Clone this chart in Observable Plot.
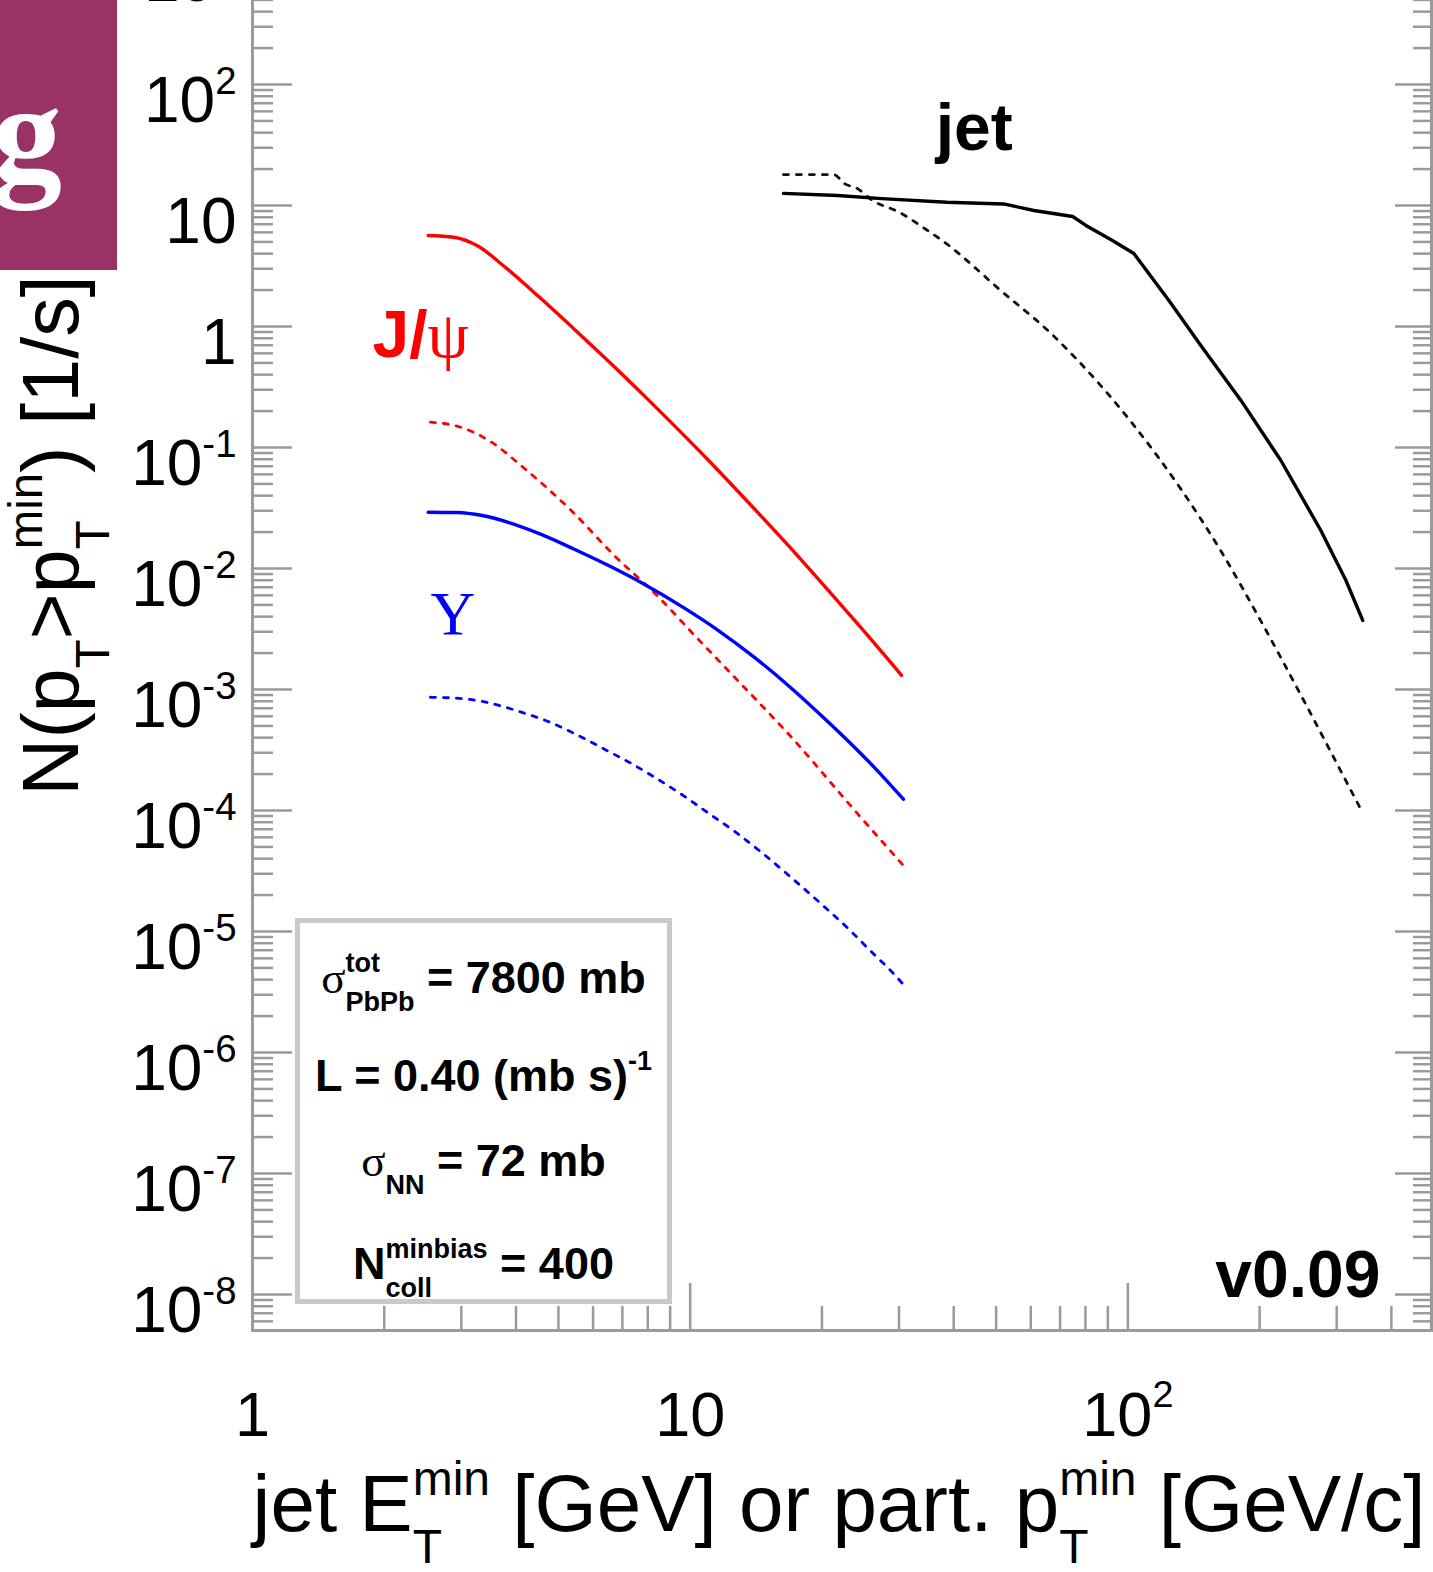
<!DOCTYPE html>
<html><head><meta charset="utf-8">
<script src="https://cdn.jsdelivr.net/npm/d3@7"></script>
<script src="https://cdn.jsdelivr.net/npm/@observablehq/plot@0.6"></script>
<style>
html,body{margin:0;padding:0;background:#fff;}
#page{position:relative;width:1433px;height:1572px;overflow:hidden;background:#fff;}
#chart{position:absolute;left:0;top:-60px;}
#logo{position:absolute;left:0;top:0;}
</style></head><body>
<div id="page"><div id="chart"></div>
<svg id="logo" width="117" height="270"><rect width="117" height="270" fill="#993366"/><text x="-8" y="180" font-family="Liberation Serif, serif" font-weight="bold" font-size="140" fill="#fff">g</text></svg>
</div>
<script>
// ---- data ----
const jpsiPt    = [2.52, 2.88, 3.28, 3.75, 4.52, 5.45, 6.58, 7.94, 9.58, 11.56, 13.95, 16.85, 20.3, 24.5, 30.4];
const jpsiRate  = [5.65, 5.47, 4.60, 3.16, 1.75, 0.941, 0.4965, 0.257, 0.1307, 0.0652, 0.0317, 0.01514, 0.00710, 0.00327, 0.00131];
const jpsiPtB   = [2.55, 2.99, 3.47, 4.19, 5.35, 6.71, 8.40, 10.33, 13.07, 17.15, 23.6, 30.7];
const jpsiRateB = [0.162, 0.147, 0.114, 0.0667, 0.0301, 0.0128, 0.00598, 0.00270, 0.00111, 0.000392, 0.000103, 0.0000351];
const upsPt     = [2.52, 2.93, 3.35, 4.52, 5.45, 6.58, 7.94, 9.58, 11.56, 13.95, 16.85, 20.3, 23.2, 26.5, 30.7];
const upsRate   = [0.0292, 0.0290, 0.0274, 0.0194, 0.01436, 0.01037, 0.00724, 0.00484, 0.00310, 0.00187, 0.00106, 0.000573, 0.000361, 0.000222, 0.000124];
const upsPtB    = [2.55, 3.05, 3.54, 4.11, 4.78, 5.45, 6.34, 7.36, 8.40, 9.76, 10.93, 12.70, 14.50, 17.16, 20.3, 23.2, 25.9, 29.1, 30.7];
const upsRateB  = [0.000863, 0.000838, 0.000762, 0.00065, 0.000537, 0.000431, 0.000324, 0.000243, 0.000183, 0.000129, 0.0000968, 0.0000662, 0.0000455, 0.0000272, 0.0000159, 0.0000102, 0.00000684, 0.00000452, 0.00000364];
const jetEt     = [16.33, 21.7, 27.4, 38.6, 52.0, 61, 74.8, 80.2, 92.2, 103.2, 124.1, 146.8, 181.3, 223.7, 276, 315, 344];
const jetRate   = [12.6, 12.1, 11.4, 10.65, 10.3, 9.09, 8.11, 6.84, 5.14, 4.01, 1.64, 0.697, 0.245, 0.0781, 0.0206, 0.00796, 0.00372];
const jetEtB    = [16.33, 21.3, 22.5, 24.1, 26.1, 30.0, 34.4, 39.0, 44.2, 49.7, 66.6, 86.7, 101.6, 132.2, 163.2, 201.4, 248.5, 291, 344];
const jetRateB  = [18.0, 18.0, 15.2, 13.8, 11.0, 8.81, 6.42, 4.67, 3.19, 2.18, 0.882, 0.325, 0.1637, 0.0453, 0.01393, 0.00367, 0.000899, 0.000304, 0.0000955];

const xMajor = [1, 10, 100];
const xTickLabels = ["1", "10", "10^{2}"];
const xMinor = [2,3,4,5,6,7,8,9,20,30,40,50,60,70,80,90,200,300,400];
const yMajor = [1e-8,1e-7,1e-6,1e-5,1e-4,1e-3,1e-2,1e-1,1,10,100,1000];
const yTickLabels = ["10^{-8}","10^{-7}","10^{-6}","10^{-5}","10^{-4}","10^{-3}","10^{-2}","10^{-1}","1","10","10^{2}","10^{3}"];
const xTitle = "jet E_{T}^{min} [GeV] or part. p_{T}^{min} [GeV/c]";
const yTitle = "N(p_{T}>p_{T}^{min}) [1/s]";
const legendLines = ["σ_{PbPb}^{tot} = 7800 mb", "L = 0.40 (mb s)^{-1}", "σ_{NN} = 72 mb", "N_{coll}^{minbias} = 400"];
const versionText = "v0.09";
const annotations = [
  {x: 36.4, y: 28.5, text: "jet", color: "#000"},
  {x: 1.88, y: 0.555, text: "J/ψ", color: "#ff0000"},
  {x: 2.55, y: 0.0029, text: "Υ", color: "#0000ff"}
];

// ---- layout ----
const xDomain = [1, 494];
const yDomain = [5.04e-9, 1549];
const inY = v => v >= yDomain[0] && v <= yDomain[1];
const yMinor = yMajor.flatMap(v => [2,3,4,5,6,7,8,9].map(k => k * v / 10)).concat(
  yMajor.slice(-1).flatMap(v => [2,3,4,5,6,7,8,9].map(k => k * v))).filter(inY).filter(v => !yMajor.includes(v));
const legendDy = [-338, -240, -155, -52];
const axisGray = "#9a9a9a";

const lineMark = (xs, ys, color, dashed, curve) => Plot.line(xs, {
  x: xs, y: ys, stroke: color, strokeWidth: dashed ? 2.8 : 3.4,
  strokeDasharray: dashed ? "5,8" : null, strokeLinejoin: "round", curve: curve || "linear"
});

const plot = Plot.plot({
  width: 1433, height: 1632,
  marginLeft: 252, marginRight: 2, marginTop: 0, marginBottom: 242,
  style: {fontFamily: "'Liberation Sans', Arial, Helvetica, sans-serif", fontSize: "60px", color: "#000", background: "transparent"},
  x: {type: "log", domain: xDomain, axis: null},
  y: {type: "log", domain: yDomain, axis: null},
  marks: [
    // ticks (inward, ROOT style)
    Plot.axisX(xMajor, {anchor: "bottom", tickSize: 47, dy: -47, fill: "none", stroke: axisGray, strokeWidth: 2.5}),
    Plot.axisX(xMinor, {anchor: "bottom", tickSize: 24, dy: -24, fill: "none", stroke: axisGray, strokeWidth: 2.5}),
    Plot.axisY(yMajor.filter(inY), {anchor: "left", tickSize: 40, dx: 40, fill: "none", stroke: axisGray, strokeWidth: 2.5}),
    Plot.axisY(yMinor, {anchor: "left", tickSize: 21, dx: 21, fill: "none", stroke: axisGray, strokeWidth: 2.5}),
    Plot.axisY(yMajor.filter(inY), {anchor: "right", tickSize: 37, dx: -37, fill: "none", stroke: axisGray, strokeWidth: 2.5}),
    Plot.axisY(yMinor, {anchor: "right", tickSize: 19, dx: -19, fill: "none", stroke: axisGray, strokeWidth: 2.5}),
    Plot.frame({stroke: axisGray, strokeWidth: 3}),
    // tick labels
    Plot.text(xMajor, {x: d => d, text: xTickLabels, frameAnchor: "bottom", textAnchor: "middle", lineAnchor: "bottom", dy: 105, fontSize: 63, fill: "#000"}),
    Plot.text(yMajor.filter(inY), {y: d => d, text: yTickLabels.filter((t, i) => inY(yMajor[i])), frameAnchor: "left", textAnchor: "end", lineAnchor: "bottom", dx: -16, dy: 38, fontSize: 64, fill: "#000"}),
    // axis titles
    Plot.text([xTitle], {frameAnchor: "bottom-right", textAnchor: "end", lineAnchor: "bottom", dx: -6, dy: 200, fontSize: 80, fill: "#000"}),
    Plot.text([yTitle], {frameAnchor: "left", rotate: -90, textAnchor: "middle", lineAnchor: "bottom", dx: -175, dy: -100, fontSize: 79, fill: "#000"}),
    // curves
    lineMark(jetEtB, jetRateB, "#111", true, "monotone-x"),
    lineMark(jetEt, jetRate, "#000", false, "linear"),
    lineMark(jpsiPtB, jpsiRateB, "#ff0000", true, "monotone-x"),
    lineMark(jpsiPt, jpsiRate, "#ff0000", false, "monotone-x"),
    lineMark(upsPtB, upsRateB, "#0000ff", true, "monotone-x"),
    lineMark(upsPt, upsRate, "#0000ff", false, "monotone-x"),
    // labels
    Plot.text(annotations.slice(0, 2), {x: "x", y: "y", text: "text", fill: "color", textAnchor: "start", lineAnchor: "bottom", fontSize: 66, fontWeight: "bold"}),
    Plot.text(annotations.slice(2), {x: "x", y: "y", text: "text", fill: "color", textAnchor: "start", lineAnchor: "bottom", fontSize: 62, fontFamily: "'Liberation Serif', serif"}),
    Plot.text([versionText], {frameAnchor: "bottom-right", textAnchor: "end", lineAnchor: "bottom", dx: -51, dy: -34, fontSize: 66, fontWeight: "bold", fill: "#000"}),
    // parameter box
    Plot.frame({insetLeft: 45, insetRight: 762, insetTop: 980, insetBottom: 29, fill: "#fff", stroke: "#cacaca", strokeWidth: 5}),
    ...legendLines.map((s, i) => Plot.text([s], {frameAnchor: "bottom-left", textAnchor: "middle", lineAnchor: "bottom", dx: 231, dy: legendDy[i], fontSize: 45, fontWeight: "bold", fill: "#000"}))
  ]
});
document.getElementById("chart").appendChild(plot);

// ---- rich text: ^{sup}, _{sub}, greek in serif ----
function richify(svg) {
  const NS = "http://www.w3.org/2000/svg";
  const GREEK = /[σψΥ]/;
  const MARK = (s, i) => (s[i] === "^" || s[i] === "_") && s[i + 1] === "{";
  svg.querySelectorAll("text").forEach(t => {
    const s = t.textContent;
    if (!/[\^_]\{|[σψΥ]/.test(s)) return;
    t.style.whiteSpace = "pre";
    const F = parseFloat(getComputedStyle(t).fontSize);
    const segs = [];
    let i = 0;
    while (i < s.length) {
      if (MARK(s, i)) {
        const j = s.indexOf("}", i);
        segs.push({mode: s[i] === "^" ? "sup" : "sub", text: s.slice(i + 2, j)});
        i = j + 1;
      } else {
        let j = i;
        while (j < s.length && !MARK(s, j)) j++;
        segs.push({mode: "normal", text: s.slice(i, j)});
        i = j;
      }
    }
    t.textContent = "";
    let cur = 0, pendingDx = 0, prev = null;
    for (const seg of segs) {
      const size = seg.mode === "normal" ? F : 0.6 * F;
      const off = seg.mode === "sup" ? -0.45 * F : seg.mode === "sub" ? 0.4 * F : 0;
      const runs = seg.text.split(/([σψΥ])/).filter(r => r);
      const stacked = prev && prev.mode !== "normal" && seg.mode !== "normal" && prev.mode !== seg.mode;
      let first = true, w = 0;
      for (const r of runs) {
        const ts = document.createElementNS(NS, "tspan");
        ts.textContent = r;
        ts.setAttribute("font-size", size);
        if (GREEK.test(r)) { ts.setAttribute("font-family", "'Liberation Serif', serif"); ts.setAttribute("font-weight", "normal"); }
        const dy = off - cur; if (dy) ts.setAttribute("dy", dy); cur = off;
        if (first) {
          const dx = pendingDx + (stacked ? -prev.width : 0);
          pendingDx = 0;
          if (dx) ts.setAttribute("dx", dx);
        }
        t.appendChild(ts);
        w += ts.getComputedTextLength();
        first = false;
      }
      if (stacked) { if (prev.width > w) pendingDx = prev.width - w; prev = null; }
      else prev = {mode: seg.mode, width: w};
    }
  });
}
richify(plot);
</script>
</body></html>
